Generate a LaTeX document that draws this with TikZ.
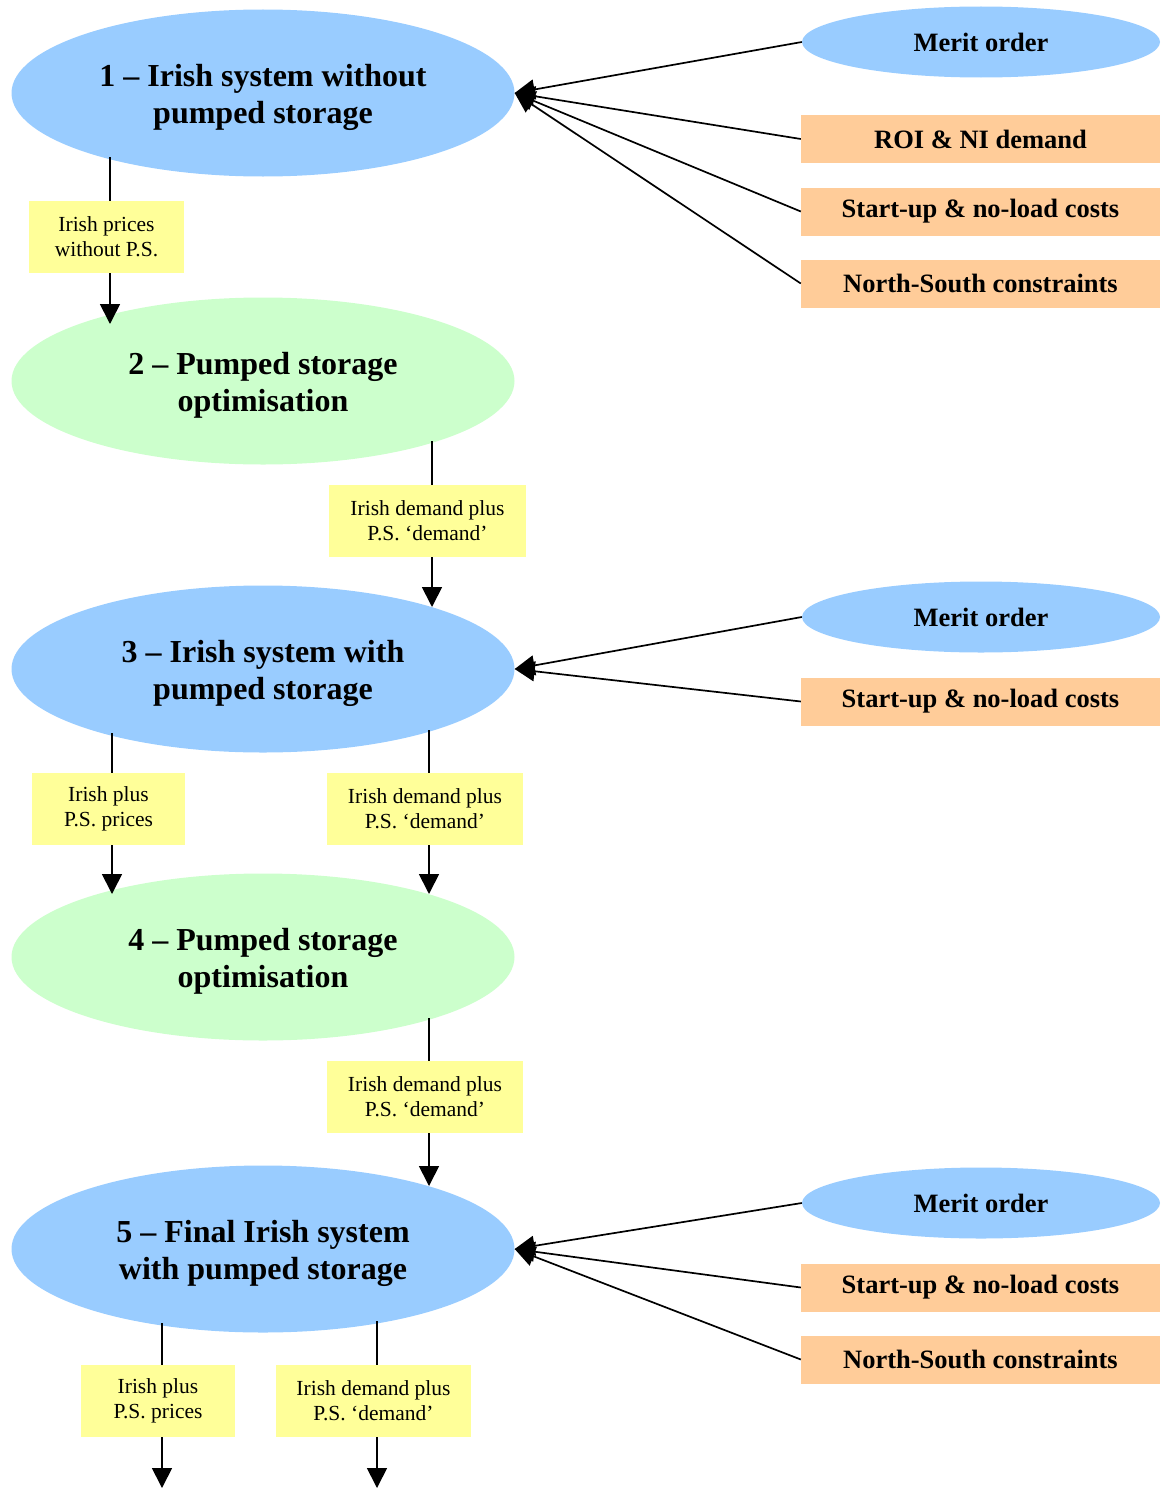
\documentclass[tikz,border=0pt]{standalone}
\usepackage{fontspec}
\setmainfont{Liberation Serif}
\usetikzlibrary{arrows.meta,shapes.geometric,calc}
\definecolor{eblue}{HTML}{99CCFF}
\definecolor{egreen}{HTML}{CCFFCC}
\definecolor{borange}{HTML}{FFCC99}
\definecolor{lyellow}{HTML}{FFFF99}
\tikzset{
  bigell/.style={ellipse, fill=#1, minimum width=503pt, minimum height=167pt, inner sep=0pt},
  etext/.style={align=center, inner sep=0pt, font=\bfseries\fontsize{32}{37}\selectfont},
  meritell/.style={ellipse, fill=eblue, minimum width=358pt, minimum height=71pt, inner sep=0pt, font=\bfseries\fontsize{26.5}{30}\selectfont},
  inbox/.style={rectangle, fill=borange, minimum width=359pt, minimum height=48pt, inner sep=0pt, font=\bfseries\fontsize{26.5}{30}\selectfont},
  lbl/.style={rectangle, fill=lyellow, minimum width=#1, minimum height=72pt, inner sep=0pt, align=center, font=\fontsize{21.5}{25}\selectfont},
  arr/.style={line width=1.7pt, -{Triangle[length=20pt,width=20pt]}}
}
\begin{document}
\begin{tikzpicture}[x=1pt,y=-1pt]
\useasboundingbox (0,0) rectangle (1160,1488);
% main ellipses
\node[bigell=eblue] (e1) at (263,93) {};
\node[bigell=egreen] (e2) at (263,381) {};
\node[bigell=eblue] (e3) at (263,669) {};
\node[bigell=egreen] (e4) at (263,957) {};
\node[bigell=eblue] (e5) at (263,1249) {};
\node[etext] (t1) at ($(e1)+(0,4)$) {1 – Irish system without\\pumped storage};
\node[etext] (t2) at ($(e2)+(0,4)$) {2 – Pumped storage\\optimisation};
\node[etext] (t3) at ($(e3)+(0,4)$) {3 – Irish system with\\pumped storage};
\node[etext] (t4) at ($(e4)+(0,4)$) {4 – Pumped storage\\optimisation};
\node[etext] (t5) at ($(e5)+(0,4)$) {5 – Final Irish system\\with pumped storage};
% inputs group 1
\node[meritell] (m1) at (981,42) {Merit order};
\node[inbox] (r1) at (980.5,139) {ROI \& NI demand};
\node[inbox] (s1) at (980.5,211.5) {Start-up \& no-load costs};
\node[inbox] (n1) at (980.5,283.5) {North-South constraints};
% inputs group 3
\node[meritell] (m3) at (981,617) {Merit order};
\node[inbox] (s3) at (980.5,701.5) {Start-up \& no-load costs};
% inputs group 5
\node[meritell] (m5) at (981,1203) {Merit order};
\node[inbox] (s5) at (980.5,1287.5) {Start-up \& no-load costs};
\node[inbox] (n5) at (980.5,1359.5) {North-South constraints};
% input arrows
\foreach \s in {m1,r1,s1,n1} \draw[arr] (\s.west) -- (e1.east);
\foreach \s in {m3,s3} \draw[arr] (\s.west) -- (e3.east);
\foreach \s in {m5,s5,n5} \draw[arr] (\s.west) -- (e5.east);
% vertical flows
\draw[arr] ($(e1)+(-153,64)$) -- ($(e2)+(-153,-57)$);
\draw[arr] ($(e2)+(169,60)$) -- ($(e3)+(169,-62)$);
\draw[arr] ($(e3)+(-151,64)$) -- ($(e4)+(-151,-63)$);
\draw[arr] ($(e3)+(166,61)$) -- ($(e4)+(166,-63)$);
\draw[arr] ($(e4)+(166,61)$) -- ($(e5)+(166,-63)$);
\coordinate (o1) at (162,1488);
\coordinate (o2) at (377,1488);
\draw[arr] ($(e5)+(-101,74)$) -- (o1);
\draw[arr] ($(e5)+(114,72)$) -- (o2);
% labels
\node[lbl=155pt] (l12) at (106.5,237) {Irish prices\\without P.S.};
\node[lbl=197pt] (l23) at (427.5,521) {Irish demand plus\\P.S. ‘demand’};
\node[lbl=153pt] (l34a) at (108.5,809) {Irish plus\\P.S. prices};
\node[lbl=196pt] (l34b) at (425,809) {Irish demand plus\\P.S. ‘demand’};
\node[lbl=196pt] (l45) at (425,1097) {Irish demand plus\\P.S. ‘demand’};
\node[lbl=154pt] (l5a) at (158,1401) {Irish plus\\P.S. prices};
\node[lbl=195pt] (l5b) at (373.5,1401) {Irish demand plus\\P.S. ‘demand’};
\end{tikzpicture}
\end{document}
